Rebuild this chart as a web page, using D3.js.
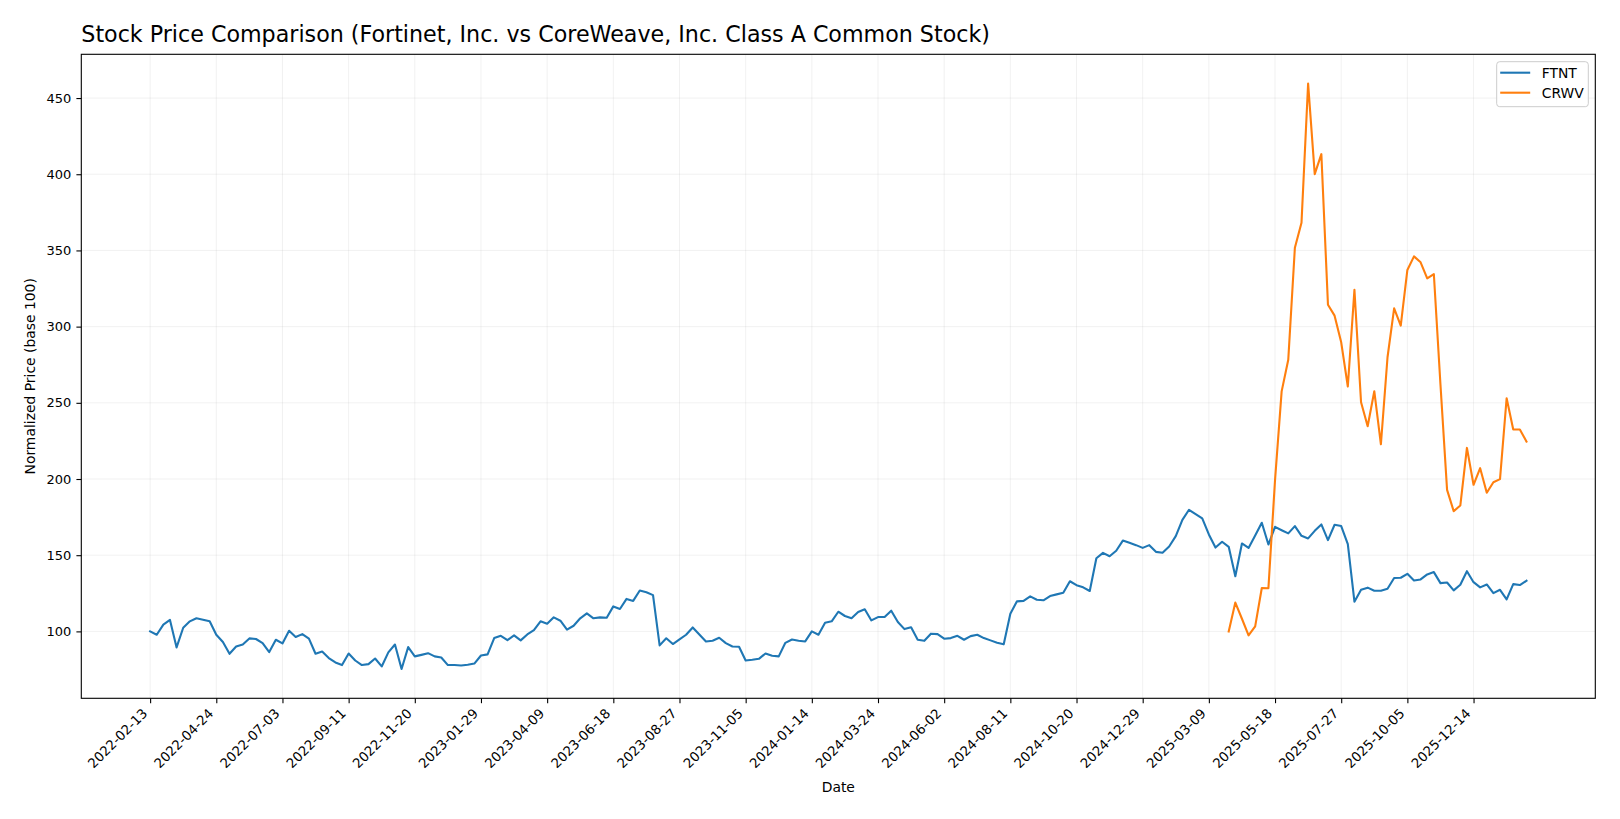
<!DOCTYPE html>
<html>
<head>
<meta charset="utf-8">
<script src="https://cdn.jsdelivr.net/npm/d3@7"></script>
<style>
  html, body { margin: 0; padding: 0; background: #fff; }
  svg { display: block; font-family: "DejaVu Sans", sans-serif; }
</style>
</head>
<body>
<svg id="chart" width="1620" height="819"></svg>
<script>
// ---- data ----
const chartTitle = "Stock Price Comparison (Fortinet, Inc. vs CoreWeave, Inc. Class A Common Stock)";
const xLabel = "Date";
const yLabel = "Normalized Price (base 100)";
const seriesNames = ["FTNT", "CRWV"];
const seriesColors = ["#1f77b4", "#ff7f0e"];

// weekly observations (week-ending Sundays)
const ftntStart = "2022-02-13";
const ftntValues = [
  100, 97.8, 104.4, 107.5, 89.5, 102.4, 106.6, 108.6, 107.7, 106.6,
  97.8, 93, 85.3, 90.1, 91.4, 95.4, 95, 92.3, 86.4, 94.5,
  92.1, 100.4, 96.3, 98.2, 95.2, 85.3, 86.8, 82.5, 79.6, 77.9,
  85.5, 80.9, 77.9, 78.5, 82.2, 77, 86.2, 91.4, 75.3, 89.7,
  83.6, 84.6, 85.7, 83.6, 82.9, 77.9, 77.9, 77.6, 78.1, 78.9,
  84.2, 84.9, 95.6, 97.1, 94.3, 97.4, 94.1, 98, 100.9, 106.6,
  105, 109.2, 107, 101.1, 103.7, 108.6, 111.8, 108.6, 109.2, 109,
  116.4, 114.7, 121.3, 120, 126.8, 125.7, 123.8, 90.8, 95.5, 91.7,
  94.7, 97.8, 102.6, 98, 93.4, 93.9, 95.8, 92.3, 90.1, 89.9,
  80.9, 81.4, 82, 85.5, 84, 83.6, 92.5, 94.7, 93.9, 93.4,
  100, 97.8, 105.7, 106.6, 112.9, 110.1, 108.6, 112.7, 114.5, 107.2,
  109.4, 109.4, 113.6, 106.1, 101.5, 102.7, 94.5, 93.8, 98.5, 98.2,
  95.2, 95.6, 97.1, 94.5, 96.9, 97.8, 95.6, 94.1, 92.5, 91.5,
  111.6, 119.7, 120, 123, 120.8, 120.4, 123.2, 124.3, 125.4, 132.9,
  130.3, 128.9, 126.5, 148, 151.5, 149.3, 152.9, 159.6, 158.1, 156.6,
  154.8, 156.6, 152.2, 151.6, 155.7, 162.5, 173.2, 179.8, 177, 174.1,
  163.6, 155, 158.8, 155.5, 136.2, 157.7, 154.8, 162.9, 171.3, 157,
  168.6, 166.4, 164.3, 169.1, 162.7, 161, 166, 170.2, 159.9, 170,
  169.1, 157.2, 119.5, 127.3, 128.7, 126.7, 126.7, 128, 135, 135.2,
  137.8, 133.4, 134.1, 137.4, 138.9, 131.7, 132.1, 126.9, 130.6, 139.5,
  132.3, 128.9, 130.8, 125.1, 127.3, 121, 131, 130.4, 133.2
];

const crwvStart = "2025-03-30";
const crwvValues = [
  100, 118.9, 108.3, 97.4, 103.3, 128.5, 128.3, 199.3, 257.5, 278.3,
  351.8, 368.2, 459.5, 400.1, 413.2, 314.4, 307.2, 289.7, 260.7, 324.1,
  250.4, 234.6, 257.6, 222.8, 279.9, 312, 300.7, 337.2, 346.1, 342.2,
  331.7, 334.5, 262, 192.9, 178.9, 182.6, 220.4, 196.2, 207.1, 191,
  197.9, 199.9, 253, 232.5, 232.5, 224.6
];

const xTickLabels = [
  "2022-02-13", "2022-04-24", "2022-07-03", "2022-09-11", "2022-11-20",
  "2023-01-29", "2023-04-09", "2023-06-18", "2023-08-27", "2023-11-05",
  "2024-01-14", "2024-03-24", "2024-06-02", "2024-08-11", "2024-10-20",
  "2024-12-29", "2025-03-09", "2025-05-18", "2025-07-27", "2025-10-05",
  "2025-12-14"
];
const yTickValues = [100, 150, 200, 250, 300, 350, 400, 450];

// ---- build series ----
const parse = d3.utcParse("%Y-%m-%d");
const fmt = d3.utcFormat("%Y-%m-%d");
function weekly(start, values) {
  const s = parse(start);
  return values.map((v, i) => ({ date: d3.utcDay.offset(s, 7 * i), value: v }));
}
const series = [
  { name: seriesNames[0], color: seriesColors[0], data: weekly(ftntStart, ftntValues) },
  { name: seriesNames[1], color: seriesColors[1], data: weekly(crwvStart, crwvValues) }
];

// ---- layout ----
const plot = { left: 81.3, right: 1595.3, top: 54.3, bottom: 698.3 };
const svg = d3.select("#chart");

const allPts = series.flatMap(s => s.data);
const [dMin, dMax] = d3.extent(allPts, d => d.date);
const dSpan = dMax - dMin;
const x = d3.scaleUtc()
  .domain([new Date(+dMin - 0.05 * dSpan), new Date(+dMax + 0.05 * dSpan)])
  .range([plot.left, plot.right]);
const [vMin, vMax] = d3.extent(allPts, d => d.value);
const vSpan = vMax - vMin;
const y = d3.scaleLinear()
  .domain([vMin - 0.05 * vSpan, vMax + 0.05 * vSpan])
  .range([plot.bottom, plot.top]);

const xTicks = xTickLabels.map(parse);

// grid
const grid = svg.append("g").attr("class", "grid");
grid.selectAll("line.gx").data(xTicks).join("line")
  .attr("x1", d => x(d)).attr("x2", d => x(d))
  .attr("y1", plot.top).attr("y2", plot.bottom)
  .attr("stroke", "#b0b0b0").attr("stroke-opacity", 0.18).attr("stroke-width", 1);
grid.selectAll("line.gy").data(yTickValues).join("line")
  .attr("x1", plot.left).attr("x2", plot.right)
  .attr("y1", d => y(d)).attr("y2", d => y(d))
  .attr("stroke", "#b0b0b0").attr("stroke-opacity", 0.18).attr("stroke-width", 1);

// lines
const line = d3.line().x(d => x(d.date)).y(d => y(d.value));
svg.append("g").selectAll("path").data(series).join("path")
  .attr("d", d => line(d.data))
  .attr("fill", "none")
  .attr("stroke", d => d.color)
  .attr("stroke-width", 2.1)
  .attr("stroke-linejoin", "round")
  .attr("stroke-linecap", "square");

// axes frame
svg.append("rect")
  .attr("x", plot.left).attr("y", plot.top)
  .attr("width", plot.right - plot.left).attr("height", plot.bottom - plot.top)
  .attr("fill", "none").attr("stroke", "#000").attr("stroke-width", 1.1);

// x axis
const xAxis = d3.axisBottom(x).tickValues(xTicks).tickFormat(fmt).tickSize(4.9).tickPadding(4);
const gx = svg.append("g").attr("transform", `translate(0,${plot.bottom})`).call(xAxis);
gx.select(".domain").remove();
gx.selectAll(".tick line").attr("stroke", "#000").attr("stroke-width", 1.1);
gx.selectAll(".tick text")
  .attr("fill", "#000")
  .style("font-size", "13.3px")
  .style("font-family", "'DejaVu Sans', sans-serif")
  .attr("text-anchor", "end")
  .attr("dy", null)
  .attr("y", 0)
  .attr("transform", "translate(-2.5,16) rotate(-45)");

// y axis
const yAxis = d3.axisLeft(y).tickValues(yTickValues).tickFormat(d3.format("d")).tickSize(4.9).tickPadding(5);
const gy = svg.append("g").attr("transform", `translate(${plot.left},0)`).call(yAxis);
gy.select(".domain").remove();
gy.selectAll(".tick line").attr("stroke", "#000").attr("stroke-width", 1.1);
gy.selectAll(".tick text")
  .attr("fill", "#000")
  .style("font-size", "13px")
  .style("font-family", "'DejaVu Sans', sans-serif");

// title
svg.append("text")
  .attr("x", plot.left).attr("y", 41.5)
  .attr("fill", "#000")
  .style("font-size", "22.2px")
  .text(chartTitle);

// axis labels
svg.append("text")
  .attr("x", (plot.left + plot.right) / 2).attr("y", 792)
  .attr("text-anchor", "middle").attr("fill", "#000")
  .style("font-size", "13.9px")
  .text(xLabel);
svg.append("text")
  .attr("transform", `translate(35,${(plot.top + plot.bottom) / 2}) rotate(-90)`)
  .attr("text-anchor", "middle").attr("fill", "#000")
  .style("font-size", "13.9px")
  .text(yLabel);

// legend
const lg = svg.append("g").attr("transform", "translate(1496.7,61.7)");
lg.append("rect")
  .attr("width", 91.6).attr("height", 45)
  .attr("rx", 3).attr("ry", 3)
  .attr("fill", "#fff").attr("fill-opacity", 0.8)
  .attr("stroke", "#cccccc").attr("stroke-width", 1);
const items = lg.selectAll("g.item").data(series).join("g")
  .attr("transform", (d, i) => `translate(0,${11 + i * 20})`);
items.append("line")
  .attr("x1", 3.5).attr("x2", 33.5).attr("y1", 0).attr("y2", 0)
  .attr("stroke", d => d.color).attr("stroke-width", 2.1);
items.append("text")
  .attr("x", 45).attr("y", 0).attr("dy", "0.36em")
  .attr("fill", "#000")
  .style("font-size", "13.9px")
  .text(d => d.name);
</script>
</body>
</html>
